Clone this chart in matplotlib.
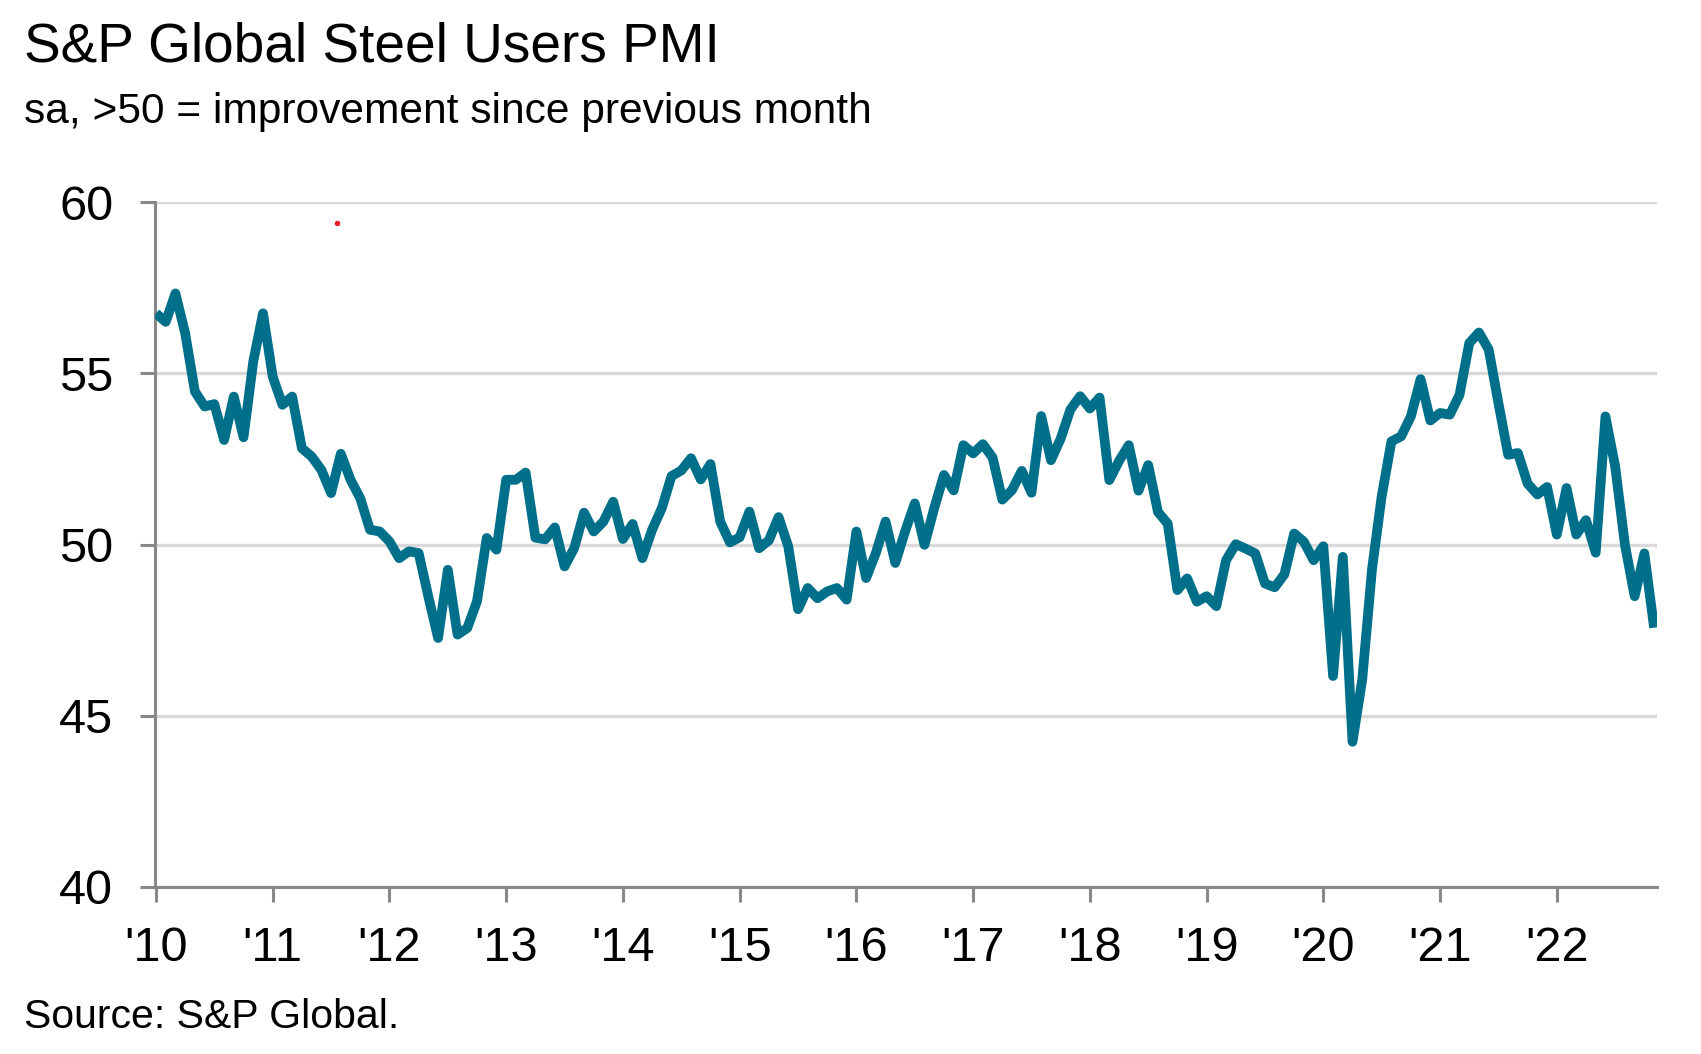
import matplotlib
matplotlib.use("Agg")
import matplotlib.pyplot as plt
import numpy as np

# ---- data ----
years = ["'10", "'11", "'12", "'13", "'14", "'15", "'16", "'17", "'18", "'19", "'20", "'21", "'22"]
pmi_2010 = [56.75, 56.5, 57.33, 56.17, 54.47, 54.03, 54.1, 53.05, 54.32, 53.13, 55.34, 56.75]
pmi_2011 = [54.9, 54.08, 54.32, 52.81, 52.57, 52.18, 51.5, 52.65, 51.89, 51.35, 50.43, 50.38]
pmi_2012 = [50.09, 49.6, 49.8, 49.75, 48.48, 47.27, 49.26, 47.37, 47.56, 48.34, 50.19, 49.85]
pmi_2013 = [51.89, 51.89, 52.1, 50.2, 50.15, 50.5, 49.36, 49.9, 50.93, 50.38, 50.67, 51.25]
pmi_2014 = [50.16, 50.6, 49.6, 50.43, 51.06, 52.0, 52.16, 52.52, 51.9, 52.35, 50.67, 50.06]
pmi_2015 = [50.21, 50.96, 49.89, 50.12, 50.8, 49.94, 48.11, 48.73, 48.43, 48.63, 48.73, 48.39]
pmi_2016 = [50.38, 49.02, 49.75, 50.67, 49.46, 50.38, 51.2, 49.99, 51.06, 52.03, 51.58, 52.9]
pmi_2017 = [52.66, 52.93, 52.54, 51.31, 51.59, 52.15, 51.51, 53.75, 52.46, 53.09, 53.94, 54.33]
pmi_2018 = [53.97, 54.29, 51.88, 52.44, 52.9, 51.57, 52.32, 50.95, 50.61, 48.67, 49.01, 48.33]
pmi_2019 = [48.49, 48.2, 49.54, 50.01, 49.88, 49.74, 48.86, 48.75, 49.13, 50.32, 50.08, 49.54]
pmi_2020 = [49.95, 46.16, 49.64, 44.24, 46.06, 49.27, 51.41, 53.01, 53.16, 53.74, 54.83, 53.62]
pmi_2021 = [53.84, 53.79, 54.37, 55.88, 56.19, 55.69, 54.13, 52.62, 52.67, 51.78, 51.46, 51.68]
pmi_2022 = [50.29, 51.65, 50.29, 50.71, 49.76, 53.74, 52.28, 50.0, 48.49, 49.74, 47.57]
y_ticks = [40, 45, 50, 55, 60]
# stray red dot present in the reference (month index, value)
red_dot_x = [18.6]
red_dot_y = [59.4]

pmi = (pmi_2010 + pmi_2011 + pmi_2012 + pmi_2013 + pmi_2014 + pmi_2015 + pmi_2016
       + pmi_2017 + pmi_2018 + pmi_2019 + pmi_2020 + pmi_2021 + pmi_2022)
months = np.arange(len(pmi))

plt.rcParams['font.family'] = ['Liberation Sans', 'DejaVu Sans']

W, H = 1701, 1054
fig = plt.figure(figsize=(W / 100, H / 100), dpi=100)
ax = fig.add_axes([155 / W, 1 - 887 / H, (1657 - 155) / W, (887 - 202) / H])

grey = '#888888'
ax.set_ylim(40, 60)
ax.set_xlim(-0.1, 154.3)
ax.set_yticks(y_ticks)
ax.set_xticks(np.arange(len(years)) * 12)
ax.set_xticklabels(years)
ax.yaxis.grid(True, color='#d9d9d9', linewidth=2.4)
ax.set_axisbelow(True)
for s in ['top', 'right']:
    ax.spines[s].set_visible(False)
for s in ['left', 'bottom']:
    ax.spines[s].set_color(grey)
    ax.spines[s].set_linewidth(2.2)
    ax.spines[s].set_zorder(3)
ax.tick_params(axis='both', colors=grey, width=2.2, length=11, labelcolor='black', labelsize=35)
ax.tick_params(axis='y', pad=19)
ax.tick_params(axis='x', pad=17)

ax.plot(months, pmi, color='#006F8A', linewidth=7, solid_joinstyle='round', solid_capstyle='butt', zorder=4)
ax.scatter(red_dot_x, red_dot_y, s=16, color='#e8202a', zorder=5, linewidths=0)

fig.text(24 / W, 1 - 62 / H, 'S&P Global Steel Users PMI', fontsize=39.6, va='baseline', ha='left')
fig.text(24 / W, 1 - 123 / H, 'sa, >50 = improvement since previous month', fontsize=30.6, va='baseline', ha='left')
fig.text(24 / W, 1 - 1028 / H, 'Source: S&P Global.', fontsize=29.5, va='baseline', ha='left')

fig.savefig('out.png', dpi=100)
